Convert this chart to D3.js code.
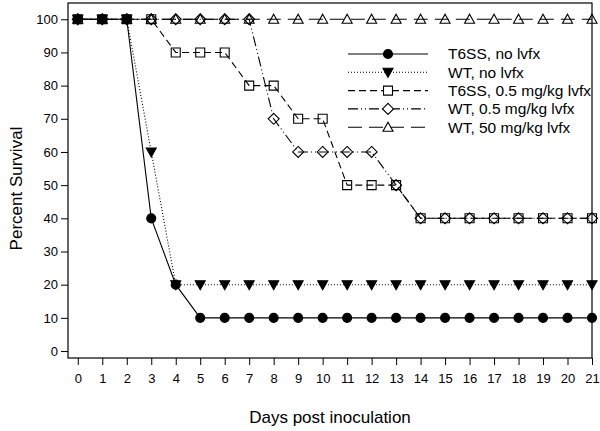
<!DOCTYPE html>
<html>
<head>
<meta charset="utf-8">
<script src="https://cdn.jsdelivr.net/npm/d3@7"></script>
<style>
  body { margin: 0; background: #fff; }
  svg { display: block; font-family: "Liberation Sans", Arial, sans-serif; }
</style>
</head>
<body>
<svg id="chart" width="600" height="431"></svg>
<script>
// days 0..21
let days = d3.range(0, 22);
let yTicks = [0, 10, 20, 30, 40, 50, 60, 70, 80, 90, 100];

let t6ssNo   = [100, 100, 100, 40, 20, 10, 10, 10, 10, 10, 10, 10, 10, 10, 10, 10, 10, 10, 10, 10, 10, 10];
let wtNo     = [100, 100, 100, 60, 20, 20, 20, 20, 20, 20, 20, 20, 20, 20, 20, 20, 20, 20, 20, 20, 20, 20];
let t6ss05   = [100, 100, 100, 100, 90, 90, 90, 80, 80, 70, 70, 50, 50, 50, 40, 40, 40, 40, 40, 40, 40, 40];
let wt05     = [100, 100, 100, 100, 100, 100, 100, 100, 70, 60, 60, 60, 60, 50, 40, 40, 40, 40, 40, 40, 40, 40];
let wt50     = [100, 100, 100, 100, 100, 100, 100, 100, 100, 100, 100, 100, 100, 100, 100, 100, 100, 100, 100, 100, 100, 100];

let seriesNames = ['T6SS, no lvfx', 'WT, no lvfx', 'T6SS, 0.5 mg/kg lvfx', 'WT, 0.5 mg/kg lvfx', 'WT, 50 mg/kg lvfx'];

let series = [
  {name: seriesNames[0], values: t6ssNo, dash: null, symbol: 'circle', filled: true},
  {name: seriesNames[1], values: wtNo, dash: '1,2', symbol: 'down', filled: true},
  {name: seriesNames[2], values: t6ss05, dash: '7,4', symbol: 'square', filled: false},
  {name: seriesNames[3], values: wt05, dash: '10,3,1,3,1,3', symbol: 'diamond', filled: false},
  {name: seriesNames[4], values: wt50, dash: '14,7', symbol: 'up', filled: false}
];

let svg = d3.select('#chart');

let plotL = 68, plotR = 592, plotT = 3, plotB = 358;

let xScale = d3.scaleLinear().domain([-0.4, 21]).range([plotL, plotR]);
let yScale = d3.scaleLinear().domain([-2.1, 104.9]).range([plotB, plotT]);

// frame
svg.append('rect')
    .attr('x', plotL).attr('y', plotT)
    .attr('width', plotR - plotL).attr('height', plotB - plotT)
    .attr('fill', 'none').attr('stroke', '#000').attr('stroke-width', 1.2);

let yAxis = d3.axisLeft(yScale).tickValues(yTicks).tickSize(7).tickPadding(3).tickSizeOuter(0);
let xAxis = d3.axisBottom(xScale).tickValues(days).tickSize(7).tickPadding(9).tickSizeOuter(0);

svg.append('g')
    .attr('transform', `translate(${plotL}, 0)`)
    .call(yAxis)
    .call(g => g.select('.domain').remove())
    .selectAll('text')
      .style('font-size', '13px')
      .attr('fill', '#000');

svg.append('g')
    .attr('transform', `translate(0, ${plotB})`)
    .call(xAxis)
    .call(g => g.select('.domain').remove())
    .selectAll('text')
      .style('font-size', '13px')
      .attr('fill', '#000');

svg.append('text')
    .attr('x', (plotL + plotR) / 2)
    .attr('y', 423)
    .attr('text-anchor', 'middle')
    .style('font-size', '17px')
    .text('Days post inoculation');

svg.append('text')
    .attr('transform', `translate(22, ${(plotT + plotB) / 2 + 8}) rotate(-90)`)
    .attr('text-anchor', 'middle')
    .style('font-size', '17px')
    .text('Percent Survival');

const symbolPath = (sym) => {
  if (sym === 'circle') return d3.symbol(d3.symbolCircle, 64)();
  if (sym === 'square') return 'M-4.5,-4.5H4.5V4.5H-4.5Z';
  if (sym === 'diamond') return 'M0,-5.5L5.5,0L0,5.5L-5.5,0Z';
  if (sym === 'up') return 'M0,-5L5,4H-5Z';
  return 'M0,5L5,-4H-5Z';
};

let line = d3.line()
    .x((d, i) => xScale(days[i]))
    .y(d => yScale(d));

series.forEach(s => {
  svg.append('path')
      .attr('d', line(s.values))
      .attr('fill', 'none')
      .attr('stroke', '#000')
      .attr('stroke-width', 1.1)
      .attr('stroke-dasharray', s.dash);

  svg.selectAll(null)
      .data(s.values)
      .enter()
      .append('path')
      .attr('d', symbolPath(s.symbol))
      .attr('transform', (d, i) => `translate(${xScale(days[i])}, ${yScale(d)})`)
      .attr('fill', s.filled ? '#000' : 'none')
      .attr('stroke', '#000')
      .attr('stroke-width', 1.1);
});

// legend
let legend = svg.append('g').attr('transform', 'translate(348, 54)');
let rowH = 18.3;

series.forEach((s, i) => {
  let row = legend.append('g').attr('transform', `translate(0, ${i * rowH})`);
  row.append('line')
      .attr('x1', 0).attr('x2', 80)
      .attr('stroke', '#000').attr('stroke-width', 1.1)
      .attr('stroke-dasharray', s.dash);
  row.append('path')
      .attr('d', symbolPath(s.symbol))
      .attr('transform', 'translate(40, 0)')
      .attr('fill', s.filled ? '#000' : '#fff')
      .attr('stroke', '#000').attr('stroke-width', 1.1);
  row.append('text')
      .attr('x', 100)
      .attr('dy', '0.35em')
      .style('font-size', '15.5px')
      .text(s.name);
});
</script>
</body>
</html>
